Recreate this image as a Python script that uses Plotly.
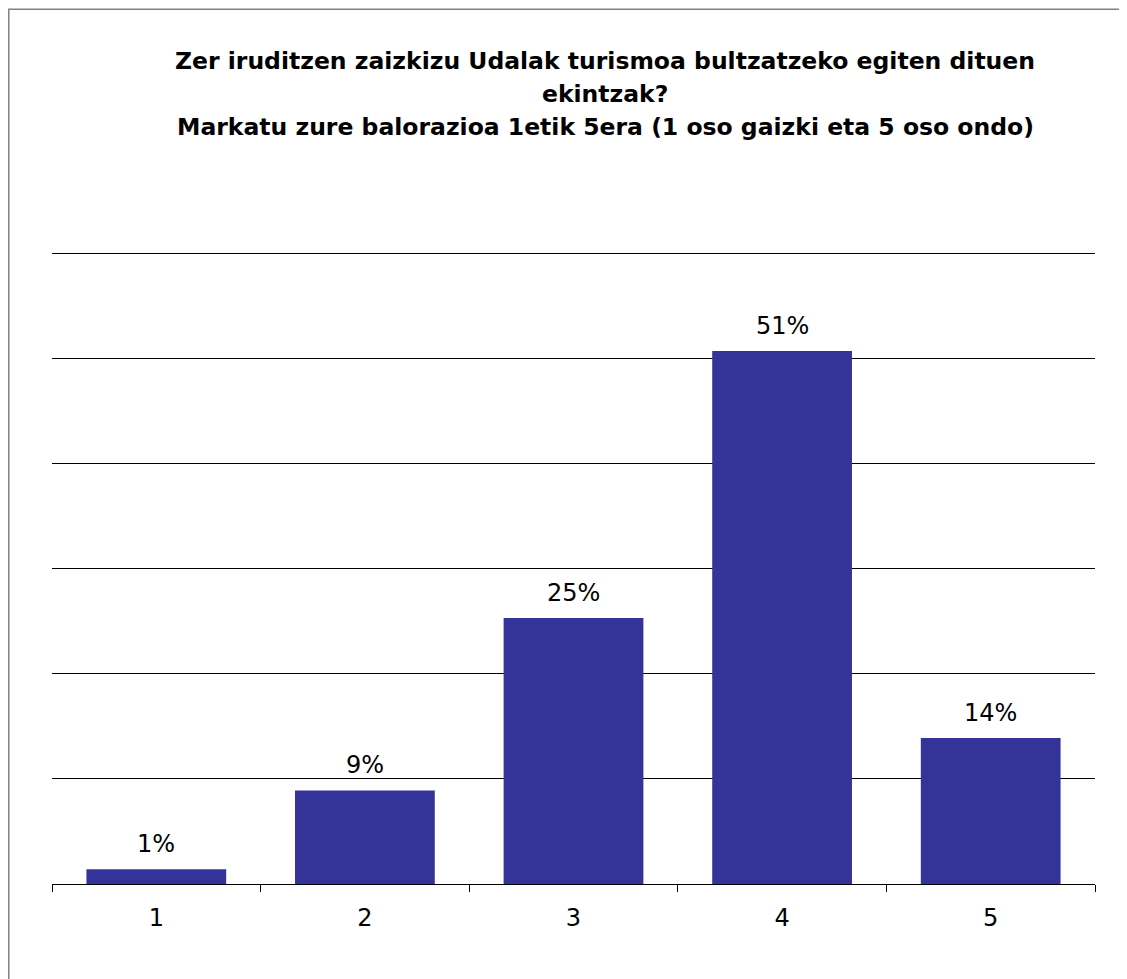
import plotly.graph_objects as go

categories = ["1", "2", "3", "4", "5"]
values = [1.4, 8.9, 25.3, 50.7, 13.9]
labels = ["1%", "9%", "25%", "51%", "14%"]

title_lines = [
    "Zer iruditzen zaizkizu Udalak turismoa bultzatzeko egiten dituen",
    "ekintzak?",
    "Markatu zure balorazioa 1etik 5era (1 oso gaizki eta 5 oso ondo)",
]

# page is drawn with an 8px body margin, so the figure is sized to fit what is left
W, H = 1119, 971
y_top = 60.5
px_per_unit = 631 / 60          # 10% grid step is ~105px
ml, mr, mb = 44, 32, 95
ph = px_per_unit * y_top
mt = H - mb - ph
pw = W - ml - mr

fig = go.Figure()
fig.add_trace(go.Bar(
    x=categories, y=values,
    marker=dict(color="#333399", line=dict(width=0)),
    hoverinfo="skip",
))

for i, (v, t) in enumerate(zip(values, labels)):
    fig.add_annotation(x=i, y=v, text=t, showarrow=False, yanchor="bottom",
                       yshift=9, font=dict(size=24, color="#000000"))

# title, one annotation per line to get the wider line spacing
for k, line in enumerate(title_lines):
    top_px = 37 + k * 32.75
    fig.add_annotation(
        text="<b>" + line + "</b>", xref="paper", yref="paper",
        x=(597 - ml) / pw, y=1 + (mt - top_px) / ph,
        xanchor="center", yanchor="top", showarrow=False,
        font=dict(size=23.5, color="#000000"))

# outer frame of the chart area (right and bottom edges run off the page)
fig.add_shape(type="rect", xref="paper", yref="paper",
              x0=-(ml - 0.8) / pw, x1=(W + 40 - ml) / pw,
              y0=-(mb + 40) / ph, y1=1 + (mt - 0.8) / ph,
              line=dict(color="#808080", width=1.5), layer="below")

fig.update_layout(
    width=W, height=H,
    margin=dict(l=ml, r=mr, t=mt, b=mb),
    paper_bgcolor="white", plot_bgcolor="white",
    font=dict(family="DejaVu Sans, Verdana, sans-serif", color="#000000"),
    bargap=0.33,
    showlegend=False,
)

fig.update_xaxes(
    type="category",
    showline=True, linecolor="#000000", linewidth=1,
    ticks="outside", tickson="boundaries", ticklen=7, tickcolor="#000000",
    tickfont=dict(size=24), ticklabelstandoff=12,
    showgrid=False,
)
fig.update_yaxes(
    range=[0, y_top], dtick=10, showticklabels=False,
    showgrid=True, gridcolor="#000000", gridwidth=1,
    zeroline=False, showline=False, ticks="",
)

fig.write_html("out.html")
